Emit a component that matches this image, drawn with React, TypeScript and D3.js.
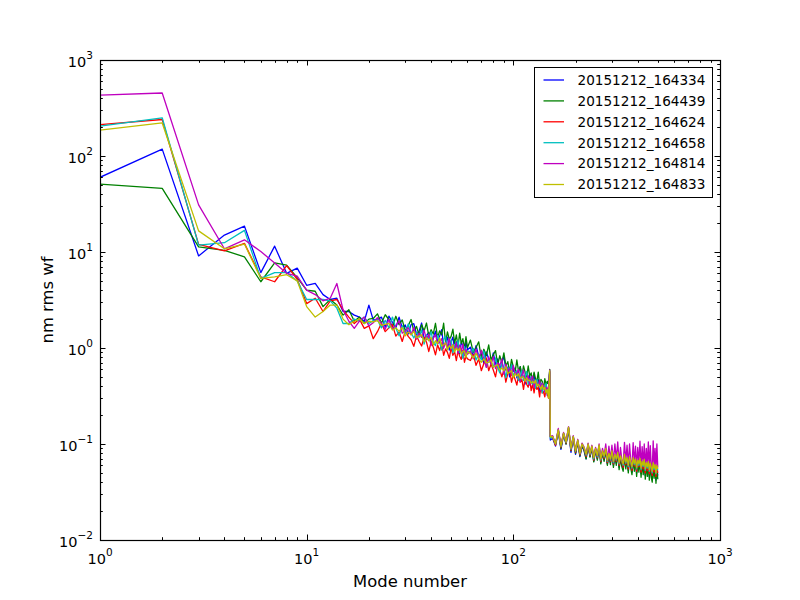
import React from 'react';
import * as d3 from 'd3';

// Zernike mode numbers sampled along the x axis
const modes = [
  1, 2, 3, 4, 5, 6, 7, 8, 9, 10, 11, 12, 13, 14, 15, 16, 17, 18, 19, 20,
  21, 22, 23, 24, 25, 26, 27, 28, 29, 30, 31, 32, 33, 34, 35, 36, 37, 38, 39, 40,
  41, 42, 43, 44, 45, 46, 47, 48, 49, 50, 51, 52, 53, 54, 55, 56, 57, 58, 59, 60,
  62, 64, 66, 68, 70, 72, 74, 76, 78, 80, 82, 84, 86, 88, 90, 92, 94, 96, 98, 100,
  102, 104, 106, 108, 110, 112, 114, 116, 118, 120, 122, 124, 126, 128, 130, 132, 134, 136, 138, 140,
  142, 144, 146, 148, 150,
  151,
  155, 160, 165, 170, 175, 180, 185, 190, 195, 200, 205, 210, 215, 220, 225, 230, 235, 240, 245, 250,
  255, 260, 265, 270, 275, 280, 285, 290, 295, 300, 305, 310, 315, 320, 325, 330, 335, 340, 345, 350,
  355, 360, 365, 370, 375, 380, 385, 390, 395, 400, 405, 410, 415, 420, 425, 430, 435, 440, 445, 450,
  455, 460, 465, 470, 475, 480, 485, 490, 495, 500,
];

// nm rms wavefront per mode, one array per acquisition
const s164334 = [
  60, 118, 9.1, 15, 18.6, 6.1, 11.5, 6.0, 6.8, 4.5, 4.7, 3.6, 3.2, 3.3, 2.4, 2.4, 2.2, 2.1, 1.9, 2.8,
  1.95, 2.0, 2.1, 1.65, 2.15, 1.85, 1.62, 2.1, 1.63, 1.74, 1.4, 1.75, 1.79, 1.39, 1.5, 1.82, 1.23, 1.35, 1.45, 1.1,
  1.27, 1.5, 1.17, 1.33, 1.55, 1.05, 1.15, 1.3, 0.95, 1.16, 1.3, 0.96, 1.16, 1.04, 0.87, 1.16, 1.05, 0.88, 1.16, 0.96,
  1.02, 0.81, 1.06, 0.82, 0.87, 0.69, 0.91, 0.77, 0.68, 0.89, 0.68, 0.77, 0.59, 0.7, 0.83, 0.59, 0.63, 0.5, 0.67, 0.57,
  0.62, 0.49, 0.57, 0.64, 0.5, 0.51, 0.42, 0.55, 0.47, 0.51, 0.43, 0.47, 0.54, 0.38, 0.42, 0.47, 0.35, 0.43, 0.38, 0.4,
  0.35, 0.41, 0.32, 0.36, 0.56,
  0.11,
  0.115, 0.095, 0.135, 0.088, 0.125, 0.1, 0.14, 0.082, 0.115, 0.078, 0.105, 0.074, 0.095, 0.085, 0.07, 0.096, 0.074, 0.09, 0.066, 0.086,
  0.07, 0.092, 0.064, 0.08, 0.068, 0.085, 0.062, 0.076, 0.064, 0.08, 0.06, 0.074, 0.063, 0.078, 0.057, 0.07, 0.061, 0.055, 0.074, 0.058,
  0.068, 0.053, 0.07, 0.059, 0.051, 0.068, 0.056, 0.066, 0.05, 0.064, 0.055, 0.067, 0.049, 0.062, 0.052, 0.065, 0.047, 0.06, 0.05, 0.062,
  0.046, 0.059, 0.049, 0.044, 0.06, 0.048, 0.057, 0.042, 0.056, 0.047,
];
const s164439 = [
  51, 46, 11.3, 10.4, 8.9, 4.9, 7.7, 7.3, 5.4, 4.0, 3.9, 2.7, 3.2, 2.8, 2.2, 2.5, 1.9, 2.1, 1.8, 2.0,
  2.03, 2.27, 1.81, 2.22, 1.98, 1.66, 2.14, 1.75, 1.96, 1.5, 1.71, 1.98, 1.49, 1.68, 1.36, 1.75, 1.51, 1.82, 1.32, 1.55,
  1.4, 1.81, 1.29, 1.51, 1.37, 1.81, 1.15, 1.47, 1.23, 1.32, 1.57, 1.12, 1.37, 1.04, 1.43, 1.11, 1.25, 0.98, 1.31, 1.01,
  1.21, 0.9, 1.01, 1.16, 0.79, 0.97, 0.83, 1.08, 0.75, 0.85, 0.94, 0.67, 0.83, 0.7, 0.89, 0.65, 0.72, 0.56, 0.76, 0.63,
  0.56, 0.75, 0.57, 0.64, 0.5, 0.65, 0.56, 0.49, 0.65, 0.51, 0.55, 0.44, 0.56, 0.48, 0.45, 0.56, 0.41, 0.47, 0.45, 0.37,
  0.48, 0.41, 0.45, 0.42, 0.6,
  0.12,
  0.118, 0.098, 0.138, 0.09, 0.128, 0.1, 0.145, 0.085, 0.118, 0.08, 0.106, 0.075, 0.097, 0.086, 0.07, 0.098, 0.073, 0.092, 0.065, 0.088,
  0.068, 0.094, 0.062, 0.082, 0.066, 0.087, 0.06, 0.078, 0.061, 0.082, 0.057, 0.076, 0.06, 0.08, 0.054, 0.072, 0.058, 0.052, 0.076, 0.055,
  0.07, 0.05, 0.072, 0.056, 0.048, 0.07, 0.052, 0.068, 0.046, 0.066, 0.051, 0.069, 0.045, 0.064, 0.048, 0.067, 0.043, 0.062, 0.046, 0.064,
  0.042, 0.061, 0.045, 0.04, 0.062, 0.044, 0.059, 0.039, 0.058, 0.043,
];
const s164624 = [
  212, 240, 12.0, 10.3, 12.3, 5.5, 4.9, 7.2, 5.2, 2.9, 3.3, 2.4, 3.1, 3.2, 2.5, 2.1, 1.8, 2.0, 1.6, 1.7,
  1.25, 1.48, 1.81, 1.48, 1.62, 1.75, 1.33, 1.47, 1.17, 1.5, 1.32, 1.22, 1.04, 1.34, 1.17, 1.05, 1.3, 1.15, 0.92, 1.16,
  1.02, 0.85, 1.08, 0.94, 1.13, 0.84, 0.98, 0.9, 0.78, 1.01, 0.84, 0.91, 0.74, 0.94, 0.82, 0.76, 0.95, 0.71, 0.82, 0.77,
  0.74, 0.86, 0.66, 0.77, 0.58, 0.69, 0.79, 0.58, 0.68, 0.59, 0.5, 0.67, 0.59, 0.5, 0.59, 0.44, 0.54, 0.59, 0.44, 0.53,
  0.47, 0.41, 0.52, 0.44, 0.47, 0.37, 0.48, 0.42, 0.39, 0.48, 0.36, 0.42, 0.34, 0.43, 0.37, 0.39, 0.31, 0.4, 0.34, 0.35,
  0.31, 0.37, 0.34, 0.3, 0.57,
  0.12,
  0.118, 0.097, 0.14, 0.092, 0.128, 0.102, 0.148, 0.086, 0.118, 0.082, 0.108, 0.077, 0.098, 0.089, 0.074, 0.098, 0.076, 0.093, 0.068, 0.088,
  0.072, 0.096, 0.066, 0.083, 0.071, 0.088, 0.064, 0.078, 0.066, 0.083, 0.062, 0.076, 0.066, 0.08, 0.06, 0.073, 0.064, 0.057, 0.076, 0.061,
  0.07, 0.055, 0.072, 0.062, 0.053, 0.07, 0.059, 0.068, 0.052, 0.066, 0.058, 0.069, 0.051, 0.064, 0.055, 0.067, 0.05, 0.062, 0.053, 0.064,
  0.049, 0.061, 0.052, 0.047, 0.062, 0.051, 0.059, 0.046, 0.058, 0.05,
];
const s164658 = [
  205, 250, 11.8, 12.5, 16.8, 5.3, 6.1, 6.1, 5.0, 3.2, 3.2, 3.2, 3.1, 2.6, 1.8, 1.8, 2.0, 1.9, 2.1, 1.8,
  1.93, 1.97, 1.62, 1.94, 1.62, 2.1, 1.62, 1.34, 1.71, 1.42, 1.78, 1.44, 1.27, 1.46, 1.29, 1.54, 1.1, 1.35, 1.25, 1.48,
  1.14, 1.06, 1.35, 1.15, 0.95, 1.23, 1.32, 0.96, 1.06, 1.21, 0.89, 1.07, 1.0, 1.2, 0.9, 0.96, 0.78, 1.03, 0.87, 0.94,
  0.88, 0.99, 0.75, 0.86, 0.75, 0.93, 0.63, 0.77, 0.71, 0.63, 0.79, 0.63, 0.55, 0.7, 0.63, 0.49, 0.63, 0.56, 0.67, 0.51,
  0.56, 0.58, 0.46, 0.5, 0.58, 0.46, 0.5, 0.57, 0.42, 0.47, 0.5, 0.42, 0.47, 0.38, 0.47, 0.42, 0.39, 0.43, 0.34, 0.4,
  0.37, 0.43, 0.34, 0.38, 0.58,
  0.115,
  0.12, 0.1, 0.142, 0.094, 0.13, 0.104, 0.15, 0.088, 0.12, 0.084, 0.11, 0.079, 0.1, 0.09, 0.076, 0.1, 0.078, 0.094, 0.07, 0.09,
  0.074, 0.097, 0.068, 0.085, 0.073, 0.09, 0.066, 0.08, 0.068, 0.085, 0.064, 0.078, 0.068, 0.082, 0.062, 0.075, 0.066, 0.06, 0.078, 0.063,
  0.072, 0.058, 0.074, 0.064, 0.056, 0.072, 0.061, 0.07, 0.055, 0.068, 0.06, 0.071, 0.054, 0.066, 0.058, 0.069, 0.053, 0.064, 0.056, 0.066,
  0.052, 0.063, 0.055, 0.05, 0.064, 0.054, 0.061, 0.049, 0.06, 0.053,
];
const s164814 = [
  431, 453, 31, 10.8, 13.4, 10.1, 7.7, 6.0, 5.6, 4.0, 3.6, 3.1, 3.3, 4.7, 2.5, 1.9, 1.6, 1.9, 2.1, 1.7,
  1.83, 2.07, 1.81, 1.57, 1.98, 1.58, 1.71, 1.92, 1.43, 1.5, 1.63, 1.37, 1.64, 1.24, 1.43, 1.29, 1.53, 1.22, 1.39, 1.06,
  1.27, 1.38, 1.11, 1.15, 1.25, 0.99, 1.15, 1.02, 1.25, 0.97, 1.08, 0.96, 1.13, 0.88, 1.07, 0.93, 1.1, 0.84, 0.97, 0.86,
  0.93, 0.77, 0.97, 0.77, 0.95, 0.77, 0.63, 0.81, 0.68, 0.81, 0.61, 0.7, 0.66, 0.77, 0.53, 0.68, 0.57, 0.62, 0.52, 0.66,
  0.53, 0.55, 0.6, 0.45, 0.52, 0.59, 0.45, 0.47, 0.52, 0.41, 0.48, 0.51, 0.39, 0.46, 0.42, 0.4, 0.46, 0.36, 0.43, 0.4,
  0.35, 0.39, 0.37, 0.4, 0.59,
  0.12,
  0.122, 0.1, 0.145, 0.096, 0.132, 0.106, 0.152, 0.09, 0.122, 0.086, 0.112, 0.08, 0.102, 0.093, 0.078, 0.102, 0.08, 0.097, 0.073, 0.092,
  0.076, 0.1, 0.07, 0.09, 0.076, 0.1, 0.068, 0.095, 0.07, 0.097, 0.066, 0.1, 0.07, 0.105, 0.064, 0.092, 0.068, 0.063, 0.104, 0.066,
  0.097, 0.06, 0.1, 0.067, 0.059, 0.103, 0.064, 0.095, 0.058, 0.092, 0.063, 0.107, 0.057, 0.094, 0.061, 0.1, 0.056, 0.09, 0.059, 0.105,
  0.055, 0.096, 0.058, 0.054, 0.108, 0.057, 0.09, 0.053, 0.1, 0.057,
];
const s164833 = [
  186, 221, 16.6, 10.8, 12.1, 5.3, 5.5, 5.8, 5.0, 2.7, 2.1, 2.4, 2.8, 2.8, 2.0, 1.75, 1.9, 2.0, 1.8, 1.9,
  1.87, 1.93, 1.72, 1.76, 1.8, 1.54, 1.62, 1.5, 1.63, 1.34, 1.47, 1.37, 1.49, 1.28, 1.33, 1.37, 1.16, 1.28, 1.19, 1.29,
  1.08, 1.19, 1.11, 1.27, 1.05, 1.08, 1.13, 0.96, 1.06, 0.99, 1.08, 0.91, 1.0, 0.94, 1.0, 0.86, 0.92, 0.93, 0.8, 0.91,
  0.88, 0.79, 0.88, 0.77, 0.71, 0.77, 0.7, 0.71, 0.75, 0.63, 0.65, 0.67, 0.59, 0.62, 0.58, 0.64, 0.54, 0.56, 0.58, 0.49,
  0.54, 0.51, 0.54, 0.48, 0.5, 0.5, 0.45, 0.49, 0.46, 0.46, 0.43, 0.45, 0.43, 0.46, 0.4, 0.42, 0.4, 0.37, 0.41, 0.37,
  0.39, 0.34, 0.37, 0.3, 0.58,
  0.118,
  0.12, 0.1, 0.14, 0.095, 0.13, 0.105, 0.15, 0.09, 0.12, 0.085, 0.11, 0.08, 0.1, 0.092, 0.078, 0.1, 0.08, 0.095, 0.072, 0.09,
  0.076, 0.098, 0.07, 0.085, 0.075, 0.09, 0.068, 0.08, 0.07, 0.085, 0.066, 0.078, 0.07, 0.082, 0.064, 0.075, 0.068, 0.062, 0.078, 0.065,
  0.072, 0.06, 0.074, 0.066, 0.058, 0.072, 0.063, 0.07, 0.057, 0.068, 0.062, 0.071, 0.056, 0.066, 0.06, 0.069, 0.055, 0.064, 0.058, 0.066,
  0.054, 0.063, 0.057, 0.052, 0.064, 0.056, 0.061, 0.05, 0.06, 0.055,
];

const seriesNames = [
  '20151212_164334',
  '20151212_164439',
  '20151212_164624',
  '20151212_164658',
  '20151212_164814',
  '20151212_164833',
];
const seriesValues = [s164334, s164439, s164624, s164658, s164814, s164833];
const seriesColors = ['#0000ff', '#008000', '#ff0000', '#00bfbf', '#bf00bf', '#bfbf00'];

// decade exponents used for the tick labels
const xTickExps = [0, 1, 2, 3];
const yTickExps = [-2, -1, 0, 1, 2, 3];

const FONT = 'DejaVu Sans, Bitstream Vera Sans, sans-serif';

const App: React.FC = () => {
  const width = 800;
  const height = 600;
  const margin = { top: 60, right: 80, bottom: 60, left: 100 };
  const x0 = margin.left;
  const x1 = width - margin.right;
  const y0 = height - margin.bottom;
  const y1 = margin.top;

  const xScale = d3.scaleLog().domain([1, 1000]).range([x0, x1]);
  const yScale = d3.scaleLog().domain([0.01, 1000]).range([y0, y1]);

  const line = d3
    .line<number>()
    .x((_, i) => xScale(modes[i]))
    .y((d) => yScale(d));

  const isMajor = (t: number) => Math.abs(Math.log10(t) - Math.round(Math.log10(t))) < 1e-9;
  const xTicks = xScale.ticks();
  const yTicks = yScale.ticks();

  const majorLen = 5.5;
  const minorLen = 2.8;
  const fmtExp = (e: number) => (e < 0 ? '\u2212' + Math.abs(e) : String(e));

  // legend layout
  const lg = { x: 534.5, y: 67.5, w: 178, h: 130, row: 20.9, first: 80 };

  return (
    <svg
      width={width}
      height={height}
      style={{ position: 'absolute', left: 0, top: 0, background: '#fff' }}
      fontFamily={FONT}
    >
      <rect x={0} y={0} width={width} height={height} fill="#fff" />
      <defs>
        <clipPath id="plot-area">
          <rect x={x0} y={y1} width={x1 - x0} height={y0 - y1} />
        </clipPath>
      </defs>

      {/* data lines */}
      <g clipPath="url(#plot-area)">
        {seriesValues.map((vals, i) => (
          <path
            key={seriesNames[i]}
            d={line(vals) || ''}
            fill="none"
            stroke={seriesColors[i]}
            strokeWidth={1.3}
            strokeLinejoin="round"
          />
        ))}
      </g>

      {/* ticks on all four sides, pointing inward */}
      <g stroke="#000" strokeWidth={1}>
        {xTicks.map((t) => {
          const px = Math.round(xScale(t)) + 0.5;
          const len = isMajor(t) ? majorLen : minorLen;
          return (
            <g key={'xt' + t}>
              <line x1={px} x2={px} y1={y0} y2={y0 - len} />
              <line x1={px} x2={px} y1={y1} y2={y1 + len} />
            </g>
          );
        })}
        {yTicks.map((t) => {
          const py = Math.round(yScale(t)) + 0.5;
          const len = isMajor(t) ? majorLen : minorLen;
          return (
            <g key={'yt' + t}>
              <line x1={x0} x2={x0 + len} y1={py} y2={py} />
              <line x1={x1} x2={x1 - len} y1={py} y2={py} />
            </g>
          );
        })}
      </g>

      {/* frame */}
      <rect x={x0 + 0.5} y={y1 + 0.5} width={x1 - x0} height={y0 - y1} fill="none" stroke="#000" strokeWidth={1.2} />

      {/* x tick labels */}
      {xTickExps.map((e) => (
        <text key={'xl' + e} x={xScale(Math.pow(10, e))} y={563.5} textAnchor="middle" fontSize={14.5} fill="#000">
          10
          <tspan fontSize={10.5} dy={-7.5}>
            {fmtExp(e)}
          </tspan>
        </text>
      ))}

      {/* y tick labels */}
      {yTickExps.map((e) => (
        <text key={'yl' + e} x={93} y={yScale(Math.pow(10, e)) + 6.5} textAnchor="end" fontSize={14.5} fill="#000">
          10
          <tspan fontSize={10.5} dy={-8}>
            {fmtExp(e)}
          </tspan>
        </text>
      ))}

      {/* axis labels */}
      <text x={(x0 + x1) / 2} y={586.5} textAnchor="middle" fontSize={16.4} fill="#000">
        Mode number
      </text>
      <text
        transform={`translate(53,${(y0 + y1) / 2}) rotate(-90)`}
        textAnchor="middle"
        fontSize={16.4}
        fill="#000"
      >
        nm rms wf
      </text>

      {/* legend */}
      <g>
        <rect x={lg.x} y={lg.y} width={lg.w} height={lg.h} fill="#fff" stroke="#000" strokeWidth={1} />
        {seriesNames.map((name, i) => {
          const cy = lg.first + i * lg.row;
          return (
            <g key={'lg' + name}>
              <line x1={543.5} x2={564} y1={cy} y2={cy} stroke={seriesColors[i]} strokeWidth={1.3} />
              <text x={577.5} y={cy + 4.8} fontSize={13.6} fill="#000">
                {name}
              </text>
            </g>
          );
        })}
      </g>
    </svg>
  );
};

export default App;
